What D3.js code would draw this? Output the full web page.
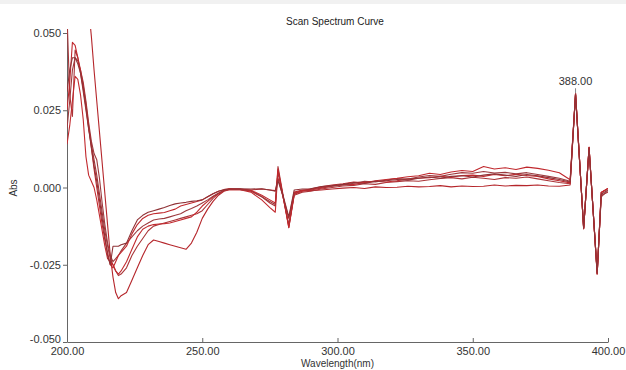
<!DOCTYPE html>
<html>
<head>
<meta charset="utf-8">
<script src="https://cdn.jsdelivr.net/npm/d3@7"></script>
<style>
  body { margin: 0; background: #fff; }
  svg { display: block; font-family: "Liberation Sans", Arial, sans-serif; }
  .axis path, .axis line { stroke: #666; }
  .axis text { fill: #333; font-size: 11px; }
</style>
</head>
<body>
<svg id="chart"></svg>
<script>
// wavelength grid (nm) shared by all scans
const wavelengths = [
  200, 201, 202, 203, 204, 205, 206, 207, 208, 209, 210, 211, 212, 213, 214, 215, 216, 217, 218, 219, 220,
  222, 224, 226, 228, 230, 232, 234, 236, 238, 240, 242, 244, 246, 248, 250, 252, 254, 256, 258, 260,
  264, 268, 272, 275, 277, 278, 280, 282, 284, 287,
  290, 294, 298, 302, 306, 310, 314, 318, 322, 326, 330, 334, 338, 342, 346, 350, 354, 358, 362, 366, 370, 374, 378, 382,
  386, 388, 391, 393, 396, 397.5, 400
];

// absorbance of each scan
const abs1 = [
  0.072, 0.074, 0.076, 0.078, 0.078, 0.076, 0.072, 0.066, 0.058, 0.049, 0.038, 0.028, 0.018, 0.008, -0.002, -0.012, -0.022, -0.029, -0.034, -0.036, -0.035,
  -0.034, -0.030, -0.026, -0.022, -0.0185, -0.017, -0.0175, -0.018, -0.0185, -0.019, -0.0195, -0.020, -0.018, -0.0145, -0.010, -0.007, -0.0045, -0.0025, -0.0012, -0.0007,
  -0.0006, -0.0008, -0.0005, -0.0008, -0.0010, 0.0030, -0.0035, -0.0100, -0.0015, -0.0008,
  -0.0010, -0.0008, -0.0005, -0.0002, 0.0000, -0.0003, 0.0002, 0.0000, 0.0001, 0.0004, 0.0002, 0.0003, 0.0006, 0.0002, 0.0005, 0.0003, 0.0004, 0.0008, 0.0005, 0.0007, 0.0006, 0.0008, 0.0005, 0.0004,
  0.0008, 0.0305, -0.0133, 0.0130, -0.0280, -0.0016, -0.0003
];
const abs2 = [
  0.056, 0.030, 0.023, 0.0445, 0.042, 0.037, 0.031, 0.025, 0.019, 0.014, 0.009, 0.004, -0.002, -0.008, -0.014, -0.019, -0.023, -0.025, -0.027, -0.0285, -0.028,
  -0.026, -0.022, -0.019, -0.0165, -0.014, -0.0125, -0.012, -0.0115, -0.011, -0.0105, -0.010, -0.0095, -0.009, -0.0085, -0.0075, -0.0055, -0.0035, -0.002, -0.001, -0.0005,
  -0.0006, -0.0012, -0.0030, -0.0050, -0.0060, 0.0068, -0.0030, -0.0130, -0.0025, -0.0015,
  -0.0012, -0.0005, 0.0000, 0.0005, 0.0007, 0.0012, 0.0010, 0.0016, 0.0019, 0.0022, 0.0020, 0.0025, 0.0029, 0.0032, 0.0028, 0.0033, 0.0030, 0.0026, 0.0032, 0.0030, 0.0034, 0.0028, 0.0022, 0.0016,
  0.0012, 0.0300, -0.0130, 0.0125, -0.0275, -0.0025, -0.0015
];
const abs3 = [
  0.014, 0.020, 0.028, 0.036, 0.035, 0.030, 0.022, 0.010, 0.004, 0.002, 0.000, -0.004, -0.009, -0.014, -0.019, -0.023, -0.024, -0.025, -0.027, -0.028, -0.027,
  -0.024, -0.020, -0.016, -0.0135, -0.0125, -0.012, -0.0118, -0.0117, -0.0115, -0.011, -0.0105, -0.010, -0.0095, -0.008, -0.006, -0.0045, -0.003, -0.002, -0.001, -0.0006,
  -0.0007, -0.0015, -0.0040, -0.0065, -0.0080, 0.0055, -0.0035, -0.0125, -0.0022, -0.0012,
  -0.0008, -0.0002, 0.0004, 0.0009, 0.0010, 0.0016, 0.0020, 0.0018, 0.0022, 0.0028, 0.0030, 0.0032, 0.0036, 0.0033, 0.0039, 0.0040, 0.0036, 0.0042, 0.0038, 0.0043, 0.0039, 0.0036, 0.0028, 0.0022,
  0.0015, 0.0305, -0.0133, 0.0130, -0.0280, -0.0016, -0.0003
];
const abs4 = [
  0.019, 0.028, 0.038, 0.042, 0.041, 0.038, 0.034, 0.028, 0.021, 0.015, 0.011, 0.009, 0.003, -0.005, -0.012, -0.018, -0.022, -0.024, -0.023, -0.022, -0.0205,
  -0.018, -0.016, -0.014, -0.0125, -0.0115, -0.0105, -0.0102, -0.010, -0.0095, -0.009, -0.0085, -0.0075, -0.0068, -0.006, -0.005, -0.004, -0.0028, -0.0018, -0.001, -0.0005,
  -0.0006, -0.0010, -0.0030, -0.0045, -0.0055, 0.0050, -0.0035, -0.0120, -0.0020, -0.0010,
  -0.0006, 0.0000, 0.0005, 0.0008, 0.0014, 0.0020, 0.0018, 0.0024, 0.0029, 0.0027, 0.0034, 0.0039, 0.0036, 0.0043, 0.0048, 0.0046, 0.0052, 0.0047, 0.0049, 0.0044, 0.0048, 0.0042, 0.0036, 0.0030,
  0.0020, 0.0300, -0.0130, 0.0128, -0.0275, -0.0030, -0.0010
];
const abs5 = [
  0.025, 0.034, 0.047, 0.046, 0.042, 0.038, 0.033, 0.027, 0.020, 0.013, 0.006, 0.000, -0.006, -0.012, -0.017, -0.021, -0.025, -0.026, -0.024, -0.022, -0.021,
  -0.019, -0.015, -0.012, -0.010, -0.009, -0.0085, -0.0083, -0.0081, -0.0075, -0.007, -0.006, -0.0055, -0.005, -0.0045, -0.004, -0.003, -0.002, -0.0012, -0.0007, -0.0004,
  -0.0005, -0.0009, -0.0025, -0.0040, -0.0050, 0.0060, -0.0035, -0.0130, -0.0018, -0.0010,
  -0.0005, 0.0002, 0.0008, 0.0012, 0.0018, 0.0015, 0.0022, 0.0026, 0.0030, 0.0035, 0.0038, 0.0046, 0.0042, 0.0050, 0.0055, 0.0052, 0.0068, 0.0060, 0.0064, 0.0058, 0.0066, 0.0062, 0.0056, 0.0048,
  0.0025, 0.0305, -0.0133, 0.0130, -0.0280, -0.0016, -0.0003
];
const abs6 = [
  0.031, 0.038, 0.042, 0.042, 0.040, 0.037, 0.032, 0.026, 0.019, 0.013, 0.007, 0.002, -0.004, -0.010, -0.016, -0.022, -0.025, -0.019, -0.019, -0.019, -0.0185,
  -0.018, -0.014, -0.0105, -0.009, -0.008, -0.0075, -0.007, -0.0065, -0.0058, -0.0053, -0.005, -0.0048, -0.0045, -0.0043, -0.004, -0.003, -0.002, -0.0012, -0.0007, -0.0005,
  -0.0004, -0.0005, -0.0004, -0.0008, -0.0012, 0.0022, -0.0030, -0.0095, -0.0008, -0.0005,
  -0.0004, 0.0003, 0.0006, 0.0010, 0.0016, 0.0013, 0.0020, 0.0022, 0.0026, 0.0024, 0.0030, 0.0034, 0.0030, 0.0036, 0.0038, 0.0034, 0.0040, 0.0044, 0.0040, 0.0036, 0.0042, 0.0038, 0.0032, 0.0026,
  0.0018, 0.0302, -0.0132, 0.0128, -0.0278, -0.0022, -0.0008
];

const scans = [abs1, abs2, abs3, abs4, abs5, abs6];
const scanColors = ["#b5262b", "#a93438", "#c22a2f", "#9c3a3e", "#c0282d", "#8f3236"];

const xTicks = [200, 250, 300, 350, 400];
const yTicks = [-0.05, -0.025, 0, 0.025, 0.05];
const peakWavelength = 388;

const width = 626, height = 370;
const margin = { top: 33, right: 18, bottom: 28, left: 67 };

const svg = d3.select("#chart")
  .attr("width", width)
  .attr("height", height);

svg.append("rect").attr("width", width).attr("height", height).attr("fill", "#fff");
// faint strip along the top edge
svg.append("rect").attr("width", width).attr("height", 4).attr("fill", "#f1f1f1");

const x = d3.scaleLinear().domain([200, 400]).range([margin.left, width - margin.right]);
const y = d3.scaleLinear().domain([-0.05, 0.05]).range([height - margin.bottom, margin.top]);

svg.append("defs").append("clipPath")
  .attr("id", "plot-clip")
  .append("rect")
  .attr("x", margin.left)
  .attr("y", margin.top - 4)
  .attr("width", width - margin.left - margin.right)
  .attr("height", height - margin.top - margin.bottom + 4);

// axes
const yAxis = svg.append("g")
  .attr("class", "axis")
  .attr("transform", "translate(" + margin.left + ",0)")
  .call(d3.axisLeft(y).tickValues(yTicks).tickFormat(d => d.toFixed(3)).tickSize(4).tickSizeOuter(0).tickPadding(2));
// lift the bottom label a little so it clears 200.00
yAxis.selectAll(".tick text").filter(d => d === -0.05).attr("dy", "0.05em");

svg.append("g")
  .attr("class", "axis")
  .attr("transform", "translate(0," + (height - margin.bottom) + ")")
  .call(d3.axisBottom(x).tickValues(xTicks).tickFormat(d => d.toFixed(2)).tickSizeInner(-4).tickSizeOuter(0).tickPadding(5));

// curves
const line = d3.line()
  .x((d, i) => x(wavelengths[i]))
  .y(d => y(d));

svg.append("g")
  .attr("clip-path", "url(#plot-clip)")
  .selectAll("path")
  .data(scans)
  .enter().append("path")
  .attr("fill", "none")
  .attr("stroke", (d, i) => scanColors[i])
  .attr("stroke-width", 1.1)
  .attr("stroke-linejoin", "round")
  .attr("d", line);

// peak marker
const pi = wavelengths.indexOf(peakWavelength);
const peakValue = d3.max(scans, s => s[pi]);
svg.append("line")
  .attr("x1", x(peakWavelength)).attr("x2", x(peakWavelength))
  .attr("y1", y(peakValue) - 5).attr("y2", y(peakValue))
  .attr("stroke", "#888");
svg.append("text")
  .attr("x", x(peakWavelength))
  .attr("y", y(peakValue) - 8)
  .attr("text-anchor", "middle")
  .attr("font-size", 11)
  .attr("fill", "#333")
  .text(peakWavelength.toFixed(2));

// titles
svg.append("text")
  .attr("x", 335)
  .attr("y", 25)
  .attr("text-anchor", "middle")
  .attr("font-size", 10)
  .attr("fill", "#222")
  .text("Scan Spectrum Curve");

svg.append("text")
  .attr("x", (margin.left + width - margin.right) / 2)
  .attr("y", 367)
  .attr("text-anchor", "middle")
  .attr("font-size", 10)
  .attr("fill", "#333")
  .text("Wavelength(nm)");

svg.append("text")
  .attr("transform", "translate(17,188) rotate(-90)")
  .attr("text-anchor", "middle")
  .attr("font-size", 10)
  .attr("fill", "#333")
  .text("Abs");
</script>
</body>
</html>
